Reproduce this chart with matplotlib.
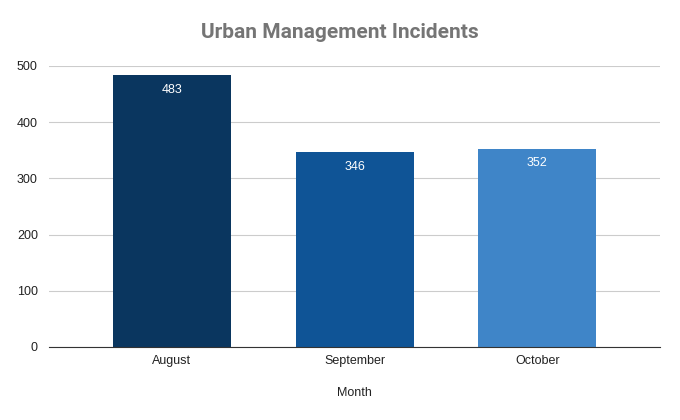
import numpy as np
import matplotlib.pyplot as plt

months = ['August', 'September', 'October']
incidents = [483, 346, 352]
bar_colors = ['#0a365f', '#0f5496', '#3f85c8']
yticks = [0, 100, 200, 300, 400, 500]

plt.rcParams['font.family'] = ['Liberation Sans', 'DejaVu Sans']

fig = plt.figure(figsize=(6.8, 4.2), dpi=100)
ax = fig.add_axes([0.072, 0.174, 0.899, 0.669])

x = np.arange(len(months))
bars = ax.bar(x, incidents, width=0.647, color=bar_colors, zorder=2)
for b, v in zip(bars, incidents):
    ax.annotate(str(v), (b.get_x() + b.get_width() / 2, v), xytext=(0, -6),
                textcoords='offset points', ha='center', va='top',
                color='white', fontsize=9)

ax.set_xlim(-0.674, 2.674)
ax.set_ylim(0, 500)
ax.set_yticks(yticks)
ax.set_xticks(x)
ax.set_xticklabels(months)
ax.grid(axis='y', color='#cccccc', linewidth=0.8, zorder=0)
ax.tick_params(length=0, labelsize=9, colors='#222222')
ax.tick_params(axis='x', pad=6)
ax.tick_params(axis='y', pad=8)
for s in ['top', 'right', 'left']:
    ax.spines[s].set_visible(False)
ax.spines['bottom'].set_color('#333333')
ax.spines['bottom'].set_zorder(3)

ax.set_xlabel('Month', fontsize=9, color='#222222', labelpad=14)
fig.text(0.5, 0.922, 'Urban Management Incidents', ha='center', va='center',
         fontsize=15, fontweight='bold', color='#757575', family=['Roboto', 'DejaVu Sans'])

fig.savefig('out.png', dpi=100)
